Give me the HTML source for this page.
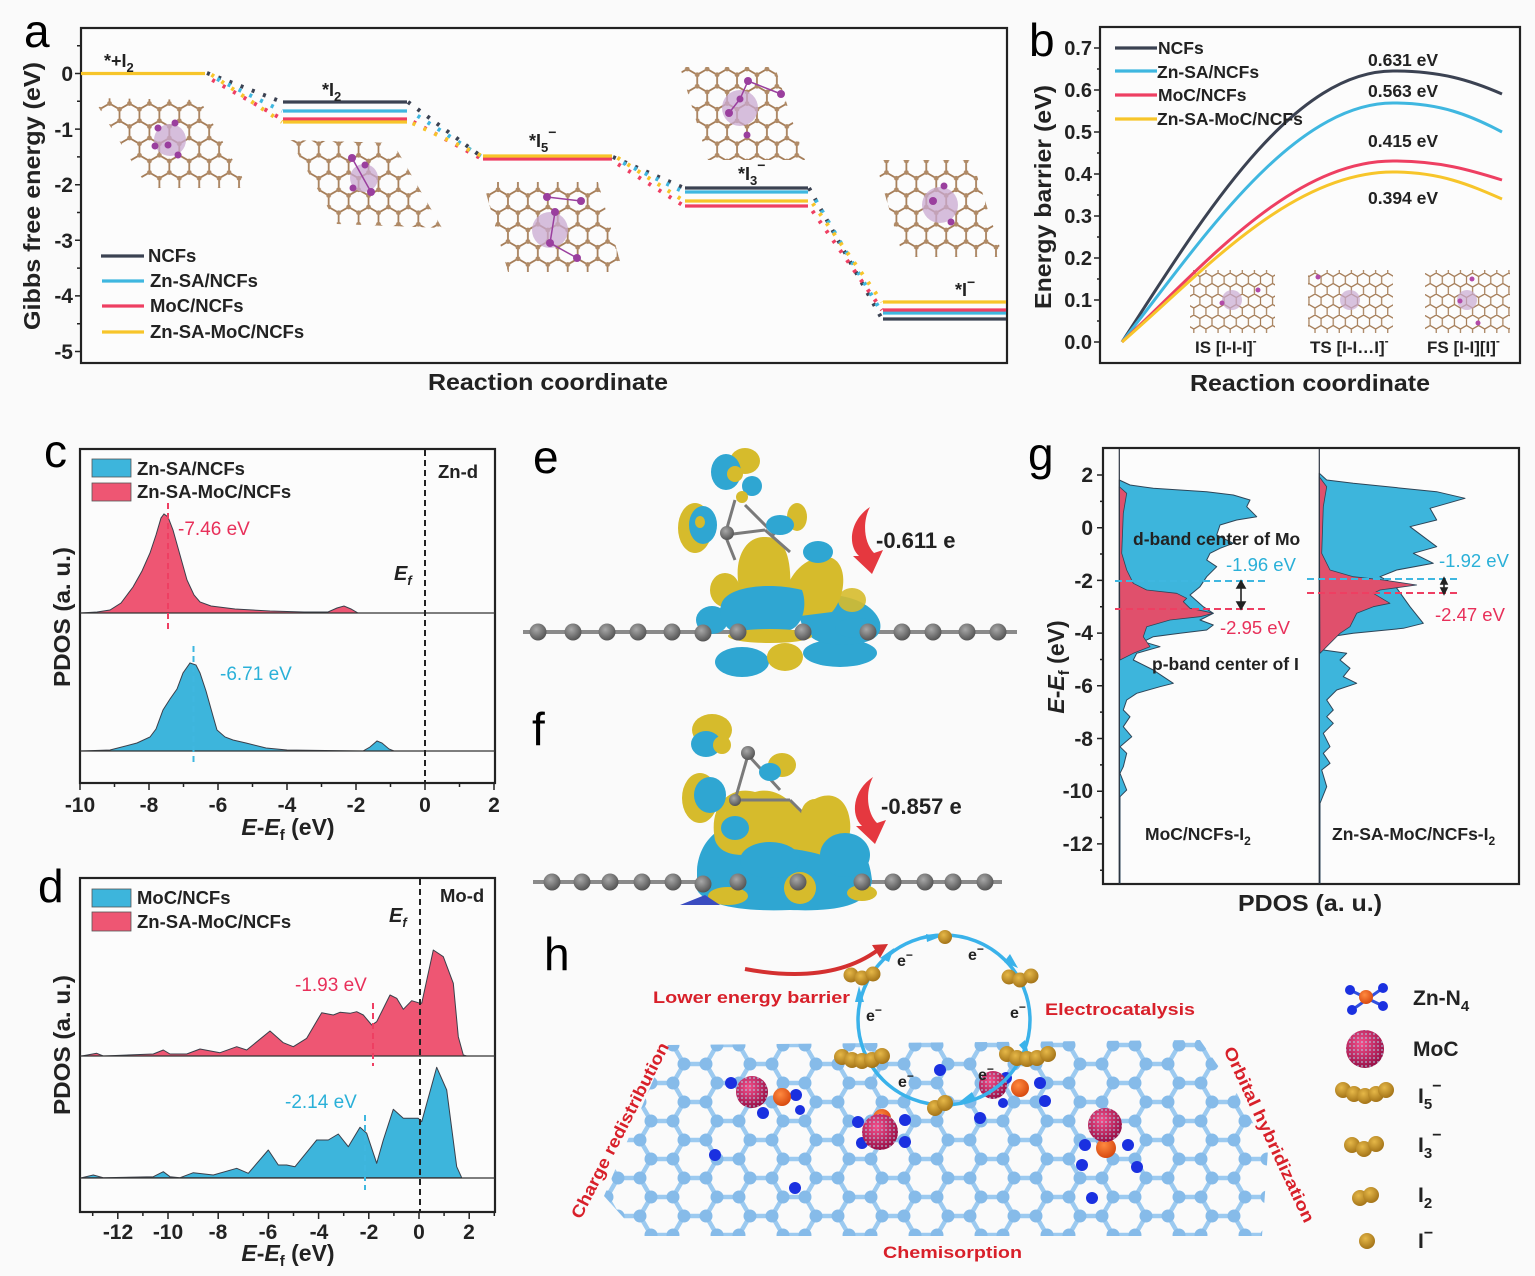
<!DOCTYPE html>
<html><head><meta charset="utf-8">
<style>
html,body{margin:0;padding:0;background:#fafafa;}
svg{display:block;}
text{font-family:"Liberation Sans",Arial,sans-serif;}
.b{font-weight:bold;}
</style></head><body>
<svg width="1535" height="1276" viewBox="0 0 1535 1276" xmlns="http://www.w3.org/2000/svg">
<defs>
 <pattern id="brown" width="34.5" height="19.92" patternUnits="userSpaceOnUse" patternTransform="rotate(90)">
  <g stroke="#a57d58" stroke-width="1.8" fill="none">
   <path d="M5.75,0H17.25 M5.75,19.92H17.25 M23,9.96H34.5 M5.75,0L0,9.96 M17.25,0L23,9.96 M0,9.96L5.75,19.92 M23,9.96L17.25,19.92"/>
  </g>
  <g fill="#b08a66">
   <circle cx="5.75" cy="0" r="2.4"/><circle cx="17.25" cy="0" r="2.4"/><circle cx="5.75" cy="19.92" r="2.4"/><circle cx="17.25" cy="19.92" r="2.4"/><circle cx="0" cy="9.96" r="2.4"/><circle cx="23" cy="9.96" r="2.4"/><circle cx="34.5" cy="9.96" r="2.4"/>
  </g>
 </pattern>
 <pattern id="brownS" width="21" height="12.12" patternUnits="userSpaceOnUse" patternTransform="rotate(90)">
  <g stroke="#a57d58" stroke-width="1.3" fill="none">
   <path d="M3.5,0H10.5 M3.5,12.12H10.5 M14,6.06H21 M3.5,0L0,6.06 M10.5,0L14,6.06 M0,6.06L3.5,12.12 M14,6.06L10.5,12.12"/>
  </g>
 </pattern>
 <pattern id="blue" width="66" height="38" patternUnits="userSpaceOnUse" patternTransform="translate(640,1045)">
  <g stroke="#9ccaf0" stroke-width="4.5" fill="none">
   <path d="M11,0H33 M11,38H33 M44,19H66 M11,0L0,19 M33,0L44,19 M0,19L11,38 M44,19L33,38"/>
  </g>
  <g fill="#86bbe9">
   <circle cx="11" cy="0" r="6.5"/><circle cx="33" cy="0" r="6.5"/><circle cx="11" cy="38" r="6.5"/><circle cx="33" cy="38" r="6.5"/><circle cx="0" cy="19" r="6.5"/><circle cx="44" cy="19" r="6.5"/><circle cx="66" cy="19" r="6.5"/>
  </g>
 </pattern>
 <pattern id="dots" width="4" height="4" patternUnits="userSpaceOnUse">
  <circle cx="2" cy="2" r="0.9" fill="#a8e4f2" opacity="0.8"/>
 </pattern>
 <radialGradient id="moc" cx="40%" cy="35%" r="65%">
  <stop offset="0" stop-color="#f2508a"/><stop offset="1" stop-color="#9a1048"/>
 </radialGradient>
 <radialGradient id="gold" cx="40%" cy="35%" r="65%">
  <stop offset="0" stop-color="#e6b848"/><stop offset="1" stop-color="#a47418"/>
 </radialGradient>
 <radialGradient id="gray" cx="40%" cy="35%" r="65%">
  <stop offset="0" stop-color="#a8a8a8"/><stop offset="1" stop-color="#555"/>
 </radialGradient>
 <radialGradient id="orange" cx="40%" cy="35%" r="65%">
  <stop offset="0" stop-color="#ff8a40"/><stop offset="1" stop-color="#d84a10"/>
 </radialGradient>
</defs>

<!-- ================= PANEL A ================= -->
<text x="24" y="47" font-size="46">a</text>
<rect x="81" y="28" width="926" height="335" fill="#fcfcfc" stroke="#222" stroke-width="2.2"/>
<path d="M75,73.5H81 M75,129.1H81 M75,184.7H81 M75,240.3H81 M75,295.9H81 M75,351.5H81 M77,45.7H81 M77,101.3H81 M77,156.9H81 M77,212.5H81 M77,268.1H81 M77,323.7H81" stroke="#222" stroke-width="1.5"/>
<g class="b" font-size="21" text-anchor="end" fill="#222">
 <text x="73" y="81">0</text><text x="73" y="137">-1</text><text x="73" y="192">-2</text><text x="73" y="248">-3</text><text x="73" y="303">-4</text><text x="73" y="359">-5</text>
</g>
<text class="b" font-size="23" transform="translate(40,196) rotate(-90)" text-anchor="middle" textLength="268" lengthAdjust="spacingAndGlyphs" fill="#222">Gibbs free energy (eV)</text>
<text class="b" font-size="23" x="548" y="390" text-anchor="middle" textLength="240" lengthAdjust="spacingAndGlyphs" fill="#222">Reaction coordinate</text>

<polygon points="93,98 200,100 248,188 148,188" fill="url(#brown)"/>
<polygon points="290,140 393,143 442,228 337,224" fill="url(#brown)"/>
<polygon points="483,182 598,182 623,272 508,272" fill="url(#brown)"/>
<polygon points="680,67 775,67 805,160 708,160" fill="url(#brown)"/>
<polygon points="875,160 972,160 1003,257 903,257" fill="url(#brown)"/>
<g fill="#c9a9d2" opacity="0.75">
 <circle cx="170" cy="140" r="16"/><circle cx="364" cy="178" r="14"/><circle cx="550" cy="230" r="18"/><circle cx="740" cy="108" r="18"/><circle cx="940" cy="205" r="18"/>
</g>
<g fill="#9a3f9e">
 <circle cx="158" cy="128" r="3.5"/><circle cx="175" cy="123" r="3.5"/><circle cx="168" cy="145" r="3.5"/><circle cx="155" cy="146" r="3.5"/><circle cx="178" cy="155" r="3.5"/>
 <circle cx="352" cy="158" r="4"/><circle cx="371" cy="192" r="4"/><circle cx="365" cy="165" r="3.5"/><circle cx="353" cy="188" r="3.5"/>
 <circle cx="547" cy="197" r="4"/><circle cx="581" cy="201" r="4"/><circle cx="555" cy="212" r="4"/><circle cx="550" cy="243" r="4"/><circle cx="577" cy="258" r="4"/>
 <circle cx="748" cy="81" r="4"/><circle cx="781" cy="94" r="4"/><circle cx="729" cy="113" r="4"/><circle cx="740" cy="99" r="3.5"/><circle cx="747" cy="135" r="3.5"/>
 <circle cx="933" cy="201" r="4"/><circle cx="944" cy="186" r="3.5"/><circle cx="951" cy="222" r="3.5"/>
</g>
<g stroke="#9a3f9e" stroke-width="1.5" fill="none">
 <path d="M352,158L371,192 M547,197L581,201 M555,212L550,243L577,258 M748,81L781,94 M729,113L740,99L748,81"/>
</g>

<g stroke-width="4" stroke-dasharray="3 9" fill="none">
 <path d="M207,73L282,102 M408,102L482,157 M613,157L684,188 M809,188L882,319" stroke="#3b4252"/>
 <path d="M209,75L282,111 M410,111L482,157 M615,159L684,192 M811,192L882,313" stroke="#3fb7e0" stroke-dashoffset="3"/>
 <path d="M207,77L282,119 M408,119L482,159 M613,161L684,206 M809,206L882,310" stroke="#ee3f62" stroke-dashoffset="6"/>
 <path d="M209,73L282,122 M410,122L482,156 M615,156L684,201 M811,201L882,302" stroke="#f7c52a" stroke-dashoffset="9"/>
</g>
<g stroke-width="3.2" fill="none">
 <path d="M81,73.5H205" stroke="#f7c52a"/>
 <path d="M283,102H407 M685,188H808 M883,319H1006" stroke="#3b4252"/>
 <path d="M283,111H407 M685,192H808 M883,313H1006" stroke="#3fb7e0"/>
 <path d="M283,119H407 M483,159H612 M685,206H808 M883,310H1006" stroke="#ee3f62"/>
 <path d="M283,122H407 M483,156H612 M685,201H808 M883,302H1006" stroke="#f7c52a"/>
</g>
<g class="b" font-size="18" fill="#222">
 <text x="104" y="67">*+I<tspan font-size="13" dy="5">2</tspan></text>
 <text x="322" y="96">*I<tspan font-size="13" dy="5">2</tspan></text>
 <text x="529" y="147">*I<tspan font-size="13" dy="5">5</tspan><tspan font-size="14" dy="-15">−</tspan></text>
 <text x="738" y="180">*I<tspan font-size="13" dy="5">3</tspan><tspan font-size="14" dy="-15">−</tspan></text>
 <text x="955" y="296">*I<tspan font-size="14" dy="-9">−</tspan></text>
</g>
<g stroke-width="3.2">
 <line x1="101" y1="256" x2="144" y2="256" stroke="#3b4252"/>
 <line x1="102" y1="281" x2="144" y2="281" stroke="#3fb7e0"/>
 <line x1="102" y1="306" x2="144" y2="306" stroke="#ee3f62"/>
 <line x1="102" y1="332" x2="144" y2="332" stroke="#f7c52a"/>
</g>
<g class="b" font-size="18.5" fill="#222">
 <text x="148" y="262">NCFs</text><text x="150" y="287">Zn-SA/NCFs</text><text x="150" y="312">MoC/NCFs</text><text x="150" y="338">Zn-SA-MoC/NCFs</text>
</g>

<!-- ================= PANEL B ================= -->
<text x="1029" y="56" font-size="46">b</text>
<rect x="1100" y="27" width="420" height="336" fill="#fcfcfc" stroke="#222" stroke-width="2.2"/>
<path d="M1094,342H1100 M1094,300H1100 M1094,258H1100 M1094,216H1100 M1094,174H1100 M1094,132H1100 M1094,90H1100 M1094,48H1100 M1097,321H1100 M1097,279H1100 M1097,237H1100 M1097,195H1100 M1097,153H1100 M1097,111H1100 M1097,69H1100" stroke="#222" stroke-width="1.5"/>
<g class="b" font-size="20" text-anchor="end" fill="#222">
 <text x="1092" y="55">0.7</text><text x="1092" y="97">0.6</text><text x="1092" y="139">0.5</text><text x="1092" y="181">0.4</text><text x="1092" y="223">0.3</text><text x="1092" y="265">0.2</text><text x="1092" y="307">0.1</text><text x="1092" y="349">0.0</text>
</g>
<text class="b" font-size="23" transform="translate(1051,197) rotate(-90)" text-anchor="middle" textLength="224" lengthAdjust="spacingAndGlyphs" fill="#222">Energy barrier (eV)</text>
<text class="b" font-size="23" x="1310" y="391" text-anchor="middle" textLength="240" lengthAdjust="spacingAndGlyphs" fill="#222">Reaction coordinate</text>
<rect x="1190" y="270" width="85" height="63" fill="url(#brownS)"/>
<rect x="1308" y="270" width="85" height="63" fill="url(#brownS)"/>
<rect x="1425" y="270" width="85" height="63" fill="url(#brownS)"/>
<g fill="#c9a9d2" opacity="0.7"><circle cx="1232" cy="300" r="10"/><circle cx="1350" cy="300" r="10"/><circle cx="1467" cy="300" r="10"/></g>
<g fill="#b24aa8"><circle cx="1258" cy="290" r="2.5"/><circle cx="1222" cy="303" r="2.5"/><circle cx="1318" cy="277" r="2.5"/><circle cx="1472" cy="279" r="2.5"/><circle cx="1478" cy="323" r="2.5"/><circle cx="1460" cy="301" r="2.5"/></g>
<g stroke-width="3" fill="none">
 <path d="M1122,342 C1200,222 1290,71 1393,71 C1440,71 1470,80 1502,94" stroke="#3b4252"/>
 <path d="M1122,342 C1195,250 1290,103 1393,103 C1440,103 1470,115 1502,132" stroke="#3fb7e0"/>
 <path d="M1122,342 C1200,270 1290,161 1393,161 C1440,161 1470,170 1502,180" stroke="#ee3f62"/>
 <path d="M1122,342 C1200,275 1290,172 1393,172 C1440,172 1470,185 1502,199" stroke="#f7c52a"/>
</g>
<g stroke-width="3.2">
 <line x1="1115" y1="48" x2="1157" y2="48" stroke="#3b4252"/>
 <line x1="1115" y1="71" x2="1157" y2="71" stroke="#3fb7e0"/>
 <line x1="1115" y1="95" x2="1157" y2="95" stroke="#ee3f62"/>
 <line x1="1115" y1="119" x2="1157" y2="119" stroke="#f7c52a"/>
</g>
<g class="b" font-size="17.5" fill="#222">
 <text x="1158" y="54">NCFs</text><text x="1157" y="78">Zn-SA/NCFs</text><text x="1158" y="101">MoC/NCFs</text><text x="1157" y="125">Zn-SA-MoC/NCFs</text>
 <text x="1368" y="66">0.631 eV</text><text x="1368" y="97">0.563 eV</text><text x="1368" y="147">0.415 eV</text><text x="1368" y="204">0.394 eV</text>
</g>
<g class="b" font-size="17" fill="#222">
 <text x="1195" y="353">IS [I-I-I]<tspan font-size="12" dy="-8">-</tspan></text>
 <text x="1310" y="353">TS [I-I…I]<tspan font-size="12" dy="-8">-</tspan></text>
 <text x="1427" y="353">FS [I-I][I]<tspan font-size="12" dy="-8">-</tspan></text>
</g>

<!-- ================= PANEL C ================= -->
<text x="44" y="467" font-size="46">c</text>
<rect x="80" y="449" width="415" height="334" fill="#fcfcfc" stroke="#222" stroke-width="2.2"/>
<path d="M80,613 L97,612 L110,610 L121,603 L133,587 L142,571 L150,553 L156,535 L161,518 L164,514 L168,517 L173,530 L180,555 L187,580 L194,595 L200,602 L211,606 L235,609 L270,611 L304,612 L328,612 L337,608 L344,606 L351,609 L358,613 L495,613 Z" fill="#ee5673" stroke="#3a3f4a" stroke-width="1"/>
<path d="M80,751 L110,750 L137,743 L150,737 L156,729 L163,710 L170,699 L177,689 L183,673 L190,663 L196,665 L200,673 L206,691 L213,716 L217,730 L225,737 L233,740 L246,743 L266,748 L287,750 L363,751 L370,747 L377,741 L382,743 L389,749 L394,751 L495,751 Z" fill="#3db5dc" stroke="#3a3f4a" stroke-width="1"/>
<line x1="80" y1="613" x2="495" y2="613" stroke="#333" stroke-width="1.2"/>
<line x1="80" y1="751" x2="495" y2="751" stroke="#333" stroke-width="1.2"/>
<line x1="425" y1="450" x2="425" y2="783" stroke="#222" stroke-width="2" stroke-dasharray="6 4"/>
<line x1="168" y1="503" x2="168" y2="629" stroke="#ee3f62" stroke-width="2" stroke-dasharray="6 4"/>
<line x1="193.5" y1="646" x2="193.5" y2="766" stroke="#3fb7e0" stroke-width="2" stroke-dasharray="6 4"/>
<path d="M80,783V790 M114.5,783V787 M149,783V790 M183.5,783V787 M218,783V790 M252.5,783V787 M287,783V790 M321.5,783V787 M356,783V790 M390.5,783V787 M425,783V790 M459.5,783V787 M494,783V790" stroke="#222" stroke-width="1.5"/>
<g class="b" font-size="21" text-anchor="middle" fill="#222">
 <text x="80" y="812">-10</text><text x="149" y="812">-8</text><text x="218" y="812">-6</text><text x="287" y="812">-4</text><text x="356" y="812">-2</text><text x="425" y="812">0</text><text x="494" y="812">2</text>
</g>
<text class="b" font-size="23" x="288" y="835" text-anchor="middle" fill="#222"><tspan font-style="italic">E</tspan>-<tspan font-style="italic">E</tspan><tspan font-size="15" dy="5">f</tspan><tspan dy="-5"> (eV)</tspan></text>
<text class="b" font-size="23" transform="translate(70,617) rotate(-90)" text-anchor="middle" textLength="140" lengthAdjust="spacingAndGlyphs" fill="#222">PDOS (a. u.)</text>
<rect x="92" y="459" width="39" height="18" fill="#3db5dc" stroke="#555" stroke-width="0.8"/>
<rect x="92" y="483" width="39" height="18" fill="#ee5673" stroke="#555" stroke-width="0.8"/>
<g class="b" font-size="18.5" fill="#222">
 <text x="137" y="475">Zn-SA/NCFs</text><text x="137" y="498">Zn-SA-MoC/NCFs</text><text x="438" y="478">Zn-d</text>
</g>
<text class="b" font-size="20" x="394" y="580" font-style="italic" fill="#222">E<tspan font-size="13" dy="5">f</tspan></text>
<text font-size="19" x="178" y="535" fill="#e8305a">-7.46 eV</text>
<text font-size="19" x="220" y="680" fill="#2ab0d8">-6.71 eV</text>

<!-- ================= PANEL D ================= -->
<text x="38" y="902" font-size="46">d</text>
<rect x="80" y="878" width="415" height="334" fill="#fcfcfc" stroke="#222" stroke-width="2.2"/>
<path d="M81.7,1056 L96.7,1053.3 L103.3,1056 L153.3,1054 L163.3,1050 L170,1054 L186.7,1054 L200,1049 L220,1052.7 L236.7,1046.7 L246.7,1050 L270,1031 L283.3,1042.7 L293.3,1046.7 L306.7,1038.3 L321.7,1012.7 L333.3,1015 L340,1012.3 L350,1013.3 L356.7,1011.7 L363.3,1015 L371.7,1025 L376.7,1021.7 L390,995 L396.7,998.3 L403.3,1009.3 L411.7,1000.7 L418.3,1002.7 L421.7,1003.3 L433.3,950 L443.3,956.7 L453.3,983.3 L458.3,1036.7 L463.3,1055 L466.7,1056 Z" fill="#ee5673" stroke="#3a3f4a" stroke-width="1" stroke-linejoin="round"/>
<path d="M81.7,1177.7 L93.3,1175 L103.3,1177.7 L153.3,1176.7 L163.3,1171.7 L170,1176.7 L180,1177.7 L193.3,1172.7 L213.3,1175 L236.7,1168.3 L248.3,1173.3 L268.3,1150 L278.3,1165 L286.7,1165 L295,1166.7 L316.7,1140 L328.3,1140 L338.3,1134 L348.3,1146.7 L360,1127.3 L366.7,1133.3 L376.7,1163.3 L383.3,1140 L393.3,1109.3 L403.3,1118.3 L418.3,1118.3 L421.7,1121.7 L436.7,1067.3 L446.7,1090 L456.7,1166.7 L461.7,1177.7 Z" fill="#3db5dc" stroke="#3a3f4a" stroke-width="1" stroke-linejoin="round"/>
<line x1="80" y1="1056" x2="495" y2="1056" stroke="#333" stroke-width="1.2"/>
<line x1="80" y1="1178" x2="495" y2="1178" stroke="#333" stroke-width="1.2"/>
<line x1="420" y1="879" x2="420" y2="1212" stroke="#222" stroke-width="2" stroke-dasharray="6 4"/>
<line x1="373" y1="1003" x2="373" y2="1066" stroke="#ee3f62" stroke-width="2" stroke-dasharray="6 4"/>
<line x1="365" y1="1115" x2="365" y2="1190" stroke="#3fb7e0" stroke-width="2" stroke-dasharray="6 4"/>
<path d="M92.7,1212V1216 M117.8,1212V1219 M142.9,1212V1216 M168,1212V1219 M193.1,1212V1216 M218.2,1212V1219 M243.3,1212V1216 M268.4,1212V1219 M293.5,1212V1216 M318.6,1212V1219 M343.7,1212V1216 M368.8,1212V1219 M393.9,1212V1216 M419,1212V1219 M444.1,1212V1216 M469.2,1212V1219 M494.3,1212V1216" stroke="#222" stroke-width="1.5"/>
<g class="b" font-size="21" text-anchor="middle" fill="#222">
 <text x="118" y="1239">-12</text><text x="168" y="1239">-10</text><text x="218" y="1239">-8</text><text x="268" y="1239">-6</text><text x="319" y="1239">-4</text><text x="369" y="1239">-2</text><text x="419" y="1239">0</text><text x="469" y="1239">2</text>
</g>
<text class="b" font-size="23" x="288" y="1261" text-anchor="middle" fill="#222"><tspan font-style="italic">E</tspan>-<tspan font-style="italic">E</tspan><tspan font-size="15" dy="5">f</tspan><tspan dy="-5"> (eV)</tspan></text>
<text class="b" font-size="23" transform="translate(70,1045) rotate(-90)" text-anchor="middle" textLength="140" lengthAdjust="spacingAndGlyphs" fill="#222">PDOS (a. u.)</text>
<rect x="92" y="889" width="39" height="18" fill="#3db5dc" stroke="#555" stroke-width="0.8"/>
<rect x="92" y="912" width="39" height="19" fill="#ee5673" stroke="#555" stroke-width="0.8"/>
<g class="b" font-size="18.5" fill="#222">
 <text x="137" y="904">MoC/NCFs</text><text x="137" y="928">Zn-SA-MoC/NCFs</text><text x="440" y="902">Mo-d</text>
</g>
<text class="b" font-size="20" x="389" y="922" font-style="italic" fill="#222">E<tspan font-size="13" dy="5">f</tspan></text>
<text font-size="19" x="295" y="991" fill="#e8305a">-1.93 eV</text>
<text font-size="19" x="285" y="1108" fill="#2ab0d8">-2.14 eV</text>

<!-- ================= PANEL E ================= -->
<text x="533" y="473" font-size="46">e</text>
<line x1="523" y1="632" x2="1017" y2="632" stroke="#8a8a8a" stroke-width="4"/>
<g>
 <ellipse cx="742" cy="662" rx="27" ry="15" fill="#2fa6d2"/>
 <ellipse cx="785" cy="657" rx="18" ry="14" fill="#d6bb2c"/>
 <ellipse cx="840" cy="653" rx="37" ry="14" fill="#2fa6d2"/>
 <ellipse cx="712" cy="620" rx="16" ry="14" fill="#2fa6d2"/>
 <path d="M798,600 C830,588 872,598 880,622 C884,642 860,646 830,644 C810,642 798,630 798,600 Z" fill="#2fa6d2"/>
 <ellipse cx="725" cy="590" rx="15" ry="17" fill="#d6bb2c"/>
 <path d="M740,592 C732,560 745,536 765,537 C787,536 792,562 790,594 Z" fill="#d6bb2c"/>
 <path d="M784,596 C790,570 810,553 832,558 C848,565 846,596 832,612 L800,616 Z" fill="#d6bb2c"/>
 <path d="M722,602 C730,586 770,582 802,590 C808,606 802,626 790,630 L730,630 C720,622 718,612 722,602 Z" fill="#2fa6d2"/>
 <ellipse cx="818" cy="552" rx="15" ry="11" fill="#2fa6d2"/>
 <ellipse cx="852" cy="600" rx="14" ry="12" fill="#d6bb2c" opacity="0.9"/>
 <ellipse cx="770" cy="636" rx="42" ry="7" fill="#d6bb2c"/>
 <ellipse cx="857" cy="628" rx="22" ry="10" fill="#2fa6d2"/>
 <path d="M735,500 L725,535 M745,505 L775,535 M725,535 L765,530 M765,530 L790,552 M725,535 L735,560" stroke="#7a7a7a" stroke-width="3" fill="none"/>
 <ellipse cx="745" cy="461" rx="15" ry="13" fill="#d6bb2c"/>
 <ellipse cx="726" cy="472" rx="15" ry="18" fill="#2fa6d2"/>
 <ellipse cx="735" cy="474" rx="8" ry="8" fill="#d6bb2c"/>
 <ellipse cx="752" cy="486" rx="10" ry="10" fill="#2fa6d2"/>
 <ellipse cx="742" cy="497" rx="6" ry="6" fill="#d6bb2c"/>
 <ellipse cx="695" cy="528" rx="17" ry="25" fill="#d6bb2c"/>
 <ellipse cx="703" cy="525" rx="14" ry="19" fill="#2fa6d2"/>
 <ellipse cx="700" cy="522" rx="5" ry="6" fill="#d6bb2c"/>
 <ellipse cx="797" cy="517" rx="10" ry="14" fill="#d6bb2c"/>
 <ellipse cx="780" cy="525" rx="14" ry="10" fill="#2fa6d2"/>
 <circle cx="727" cy="533" r="7" fill="url(#gray)"/>
</g>
<g fill="url(#gray)">
 <circle cx="538" cy="632" r="8.5"/><circle cx="573" cy="632" r="8.5"/><circle cx="607" cy="632" r="8.5"/><circle cx="638" cy="632" r="8.5"/><circle cx="672" cy="632" r="8.5"/><circle cx="703" cy="633" r="8.5"/><circle cx="738" cy="632" r="8.5"/><circle cx="803" cy="632" r="8.5"/><circle cx="868" cy="632" r="8.5"/><circle cx="902" cy="632" r="8.5"/><circle cx="933" cy="632" r="8.5"/><circle cx="967" cy="632" r="8.5"/><circle cx="998" cy="632" r="8.5"/>
</g>
<path d="M870,507 C850,520 847,545 859,556 L853,556 L872,574 L883,550 L874,553 C864,543 862,522 870,507 Z" fill="#e5383f"/>
<text class="b" font-size="22" x="876" y="548" fill="#222">-0.611 e</text>

<!-- ================= PANEL F ================= -->
<text x="532" y="745" font-size="46">f</text>
<line x1="533" y1="882" x2="1002" y2="882" stroke="#8a8a8a" stroke-width="4"/>
<g>
 <path d="M697,870 C700,830 735,815 780,818 C830,812 868,835 872,880 C870,905 840,912 790,910 C740,912 705,905 697,890 Z" fill="#2fa6d2"/>
 <path d="M715,840 C708,805 730,785 755,792 C775,786 790,800 800,812 C815,792 840,788 848,812 C855,835 845,852 832,858 C800,848 780,846 760,852 C740,858 720,855 715,840 Z" fill="#d6bb2c"/>
 <ellipse cx="770" cy="860" rx="30" ry="18" fill="#2fa6d2"/>
 <ellipse cx="735" cy="828" rx="14" ry="12" fill="#2fa6d2"/>
 <ellipse cx="845" cy="855" rx="25" ry="22" fill="#2fa6d2"/>
 <ellipse cx="800" cy="888" rx="16" ry="16" fill="#d6bb2c"/>
 <ellipse cx="728" cy="896" rx="20" ry="9" fill="#d6bb2c"/>
 <ellipse cx="862" cy="893" rx="15" ry="8" fill="#d6bb2c"/>
 <path d="M748,755 L735,800 M748,755 L780,790 M735,800 L790,800 M790,800 L810,820" stroke="#7a7a7a" stroke-width="3" fill="none"/>
 <ellipse cx="712" cy="730" rx="20" ry="16" fill="#d6bb2c"/>
 <ellipse cx="706" cy="744" rx="15" ry="13" fill="#2fa6d2"/>
 <ellipse cx="722" cy="745" rx="9" ry="9" fill="#d6bb2c"/>
 <ellipse cx="700" cy="798" rx="18" ry="25" fill="#d6bb2c"/>
 <ellipse cx="710" cy="795" rx="16" ry="18" fill="#2fa6d2"/>
 <ellipse cx="782" cy="765" rx="14" ry="12" fill="#d6bb2c"/>
 <ellipse cx="770" cy="772" rx="11" ry="9" fill="#2fa6d2"/>
 <ellipse cx="815" cy="815" rx="14" ry="16" fill="#d6bb2c"/>
 <circle cx="748" cy="753" r="7" fill="url(#gray)"/>
 <circle cx="735" cy="800" r="6" fill="url(#gray)"/>
 <path d="M680,905 L705,895 L720,905 Z" fill="#3a4cc0"/>
</g>
<g fill="url(#gray)">
 <circle cx="552" cy="882" r="8.5"/><circle cx="582" cy="882" r="8.5"/><circle cx="610" cy="882" r="8.5"/><circle cx="642" cy="882" r="8.5"/><circle cx="673" cy="882" r="8.5"/><circle cx="703" cy="884" r="8.5"/><circle cx="738" cy="882" r="8.5"/><circle cx="798" cy="882" r="8.5"/><circle cx="862" cy="882" r="8.5"/><circle cx="893" cy="882" r="8.5"/><circle cx="925" cy="882" r="8.5"/><circle cx="953" cy="882" r="8.5"/><circle cx="985" cy="882" r="8.5"/>
</g>
<path d="M873,777 C853,790 850,815 862,826 L856,826 L875,844 L886,820 L877,823 C867,813 865,792 873,777 Z" fill="#e5383f"/>
<text class="b" font-size="22" x="881" y="814" fill="#222">-0.857 e</text>

<!-- ================= PANEL G ================= -->
<text x="1028" y="470" font-size="46">g</text>
<rect x="1103" y="448" width="416" height="436" fill="#fcfcfc" stroke="#222" stroke-width="2.2"/>
<path d="M1119.3,480 L1130,485 L1153.3,488.3 L1206.7,491.7 L1233.3,495 L1250,500 L1246.7,506.7 L1256.7,516.7 L1236.7,520 L1220,525 L1216.7,535 L1233.3,543.3 L1220,548.3 L1210,553.3 L1206.7,560 L1216.7,566.7 L1206.7,576.7 L1200,586.7 L1190,595 L1203.3,606.7 L1213.3,613.3 L1200,620 L1213.3,625 L1206.7,630 L1180,633.3 L1153.3,636.7 L1143.3,641.7 L1160,646.7 L1136.7,653.3 L1133.3,660 L1153.3,670 L1163.3,676.7 L1173.3,683.3 L1160,686.7 L1136.7,693.3 L1126.7,700 L1123.3,710 L1130,716.7 L1123.3,726.7 L1131.7,736.7 L1120,746.7 L1126.7,753.3 L1123.3,766.7 L1120,773.3 L1126.7,790 L1120,796.7 L1120,883 L1119.3,883 Z" fill="#3db5dc" stroke="#2d4558" stroke-width="1" stroke-linejoin="round"/>
<path d="M1119.3,486.7 L1126.7,493.3 L1123.3,513.3 L1121.7,553.3 L1126.7,570 L1133.3,583.3 L1146.7,590 L1176.7,593.3 L1186.7,598.3 L1183.3,601.7 L1190,608.3 L1206.7,611.7 L1213.3,613.3 L1200,616.7 L1170,620 L1146.7,626.7 L1143.3,636.7 L1150,646.7 L1133.3,653.3 L1120,660 Z" fill="#e0506c" stroke="#2d4558" stroke-width="0.8" stroke-linejoin="round"/>
<path d="M1319.3,473.3 L1326.7,480 L1353.3,483.3 L1436.7,491.7 L1465,498.3 L1430,508.3 L1436.7,520 L1410,526.7 L1436.7,546.7 L1413.3,553.3 L1433.3,563.3 L1396.7,570 L1380,576.7 L1393.3,583.3 L1410,606.7 L1423.3,623.3 L1403.3,628.3 L1353.3,633.3 L1330,636.7 L1323.3,650 L1346.7,653.3 L1340,660 L1350,668.3 L1343.3,676.7 L1356.7,683.3 L1336.7,690 L1326.7,700 L1333.3,710 L1326.7,716.7 L1333.3,723.3 L1323.3,733.3 L1330,746.7 L1323.3,753.3 L1330,763.3 L1321.7,770 L1326.7,786.7 L1320,803.3 L1320,883 L1319.3,883 Z" fill="#3db5dc" stroke="#2d4558" stroke-width="1" stroke-linejoin="round"/>
<path d="M1319.3,476.7 L1326.7,486.7 L1323.3,506.7 L1321.7,553.3 L1330,570 L1353.3,576.7 L1383.3,580 L1416.7,585 L1380,590 L1373.3,593.3 L1390,603.3 L1373.3,606.7 L1356.7,613.3 L1350,626.7 L1340,633.3 L1320,653.3 Z" fill="#e0506c" stroke="#2d4558" stroke-width="0.8" stroke-linejoin="round"/>
<line x1="1119.3" y1="449" x2="1119.3" y2="884" stroke="#2d3440" stroke-width="1.2"/>
<line x1="1319.3" y1="449" x2="1319.3" y2="884" stroke="#2d3440" stroke-width="1.2"/>
<path d="M1097,475H1103 M1097,527.7H1103 M1097,580.4H1103 M1097,633.1H1103 M1097,685.8H1103 M1097,738.5H1103 M1097,791.2H1103 M1097,843.9H1103 M1100,501.35H1103 M1100,554H1103 M1100,606.75H1103 M1100,659.45H1103 M1100,712.15H1103 M1100,764.85H1103 M1100,817.55H1103 M1100,870.25H1103" stroke="#222" stroke-width="1.5"/>
<g class="b" font-size="21" text-anchor="end" fill="#222">
 <text x="1093" y="482">2</text><text x="1093" y="535">0</text><text x="1093" y="588">-2</text><text x="1093" y="640">-4</text><text x="1093" y="693">-6</text><text x="1093" y="746">-8</text><text x="1093" y="798">-10</text><text x="1093" y="851">-12</text>
</g>
<text class="b" font-size="23" transform="translate(1064,667) rotate(-90)" text-anchor="middle" fill="#222"><tspan font-style="italic">E</tspan>-<tspan font-style="italic">E</tspan><tspan font-size="15" dy="5">f</tspan><tspan dy="-5"> (eV)</tspan></text>
<text class="b" font-size="23" x="1310" y="911" text-anchor="middle" textLength="144" lengthAdjust="spacingAndGlyphs" fill="#222">PDOS (a. u.)</text>
<line x1="1115" y1="581" x2="1267" y2="581" stroke="#3fb7e0" stroke-width="2" stroke-dasharray="7 4"/>
<line x1="1115" y1="609" x2="1267" y2="609" stroke="#ee3f62" stroke-width="2" stroke-dasharray="7 4"/>
<line x1="1307" y1="579" x2="1460" y2="579" stroke="#3fb7e0" stroke-width="2" stroke-dasharray="7 4"/>
<line x1="1307" y1="593" x2="1460" y2="593" stroke="#ee3f62" stroke-width="2" stroke-dasharray="7 4"/>
<g stroke="#222" stroke-width="1.6" fill="#222">
 <line x1="1241" y1="586" x2="1241" y2="604"/><path d="M1237,588L1241,581L1245,588Z M1237,602L1241,609L1245,602Z"/>
 <line x1="1444" y1="582" x2="1444" y2="590"/><path d="M1441,584L1444,578L1447,584Z M1441,588L1444,594L1447,588Z"/>
</g>
<g class="b" font-size="17.5" fill="#222">
 <text x="1133" y="545">d-band center of Mo</text>
 <text x="1152" y="670">p-band center of I</text>
 <text x="1145" y="840">MoC/NCFs-I<tspan font-size="12" dy="5">2</tspan></text>
 <text x="1332" y="840">Zn-SA-MoC/NCFs-I<tspan font-size="12" dy="5">2</tspan></text>
</g>
<g font-size="18.5">
 <text x="1226" y="571" fill="#2ab0d8">-1.96 eV</text>
 <text x="1220" y="634" fill="#e8305a">-2.95 eV</text>
 <text x="1439" y="567" fill="#2ab0d8">-1.92 eV</text>
 <text x="1435" y="621" fill="#e8305a">-2.47 eV</text>
</g>

<!-- ================= PANEL H ================= -->
<text x="544" y="970" font-size="46">h</text>
<polygon points="668,1045 1200,1040 1235,1090 1268,1150 1262,1236 640,1236 604,1196" fill="url(#blue)"/>
<g fill="#1a30e0">
 <circle cx="731" cy="1083" r="6"/><circle cx="763" cy="1113" r="6"/><circle cx="796" cy="1095" r="6"/><circle cx="800" cy="1110" r="5"/>
 <circle cx="858" cy="1122" r="6"/><circle cx="905" cy="1120" r="6"/><circle cx="862" cy="1143" r="6"/><circle cx="905" cy="1142" r="6"/>
 <circle cx="1006" cy="1078" r="6"/><circle cx="1040" cy="1083" r="6"/><circle cx="1003" cy="1103" r="5"/><circle cx="1045" cy="1101" r="6"/>
 <circle cx="1085" cy="1145" r="6"/><circle cx="1128" cy="1145" r="6"/><circle cx="1082" cy="1165" r="6"/><circle cx="1137" cy="1167" r="6"/>
 <circle cx="715" cy="1155" r="6"/><circle cx="795" cy="1188" r="6"/><circle cx="940" cy="1070" r="6"/><circle cx="980" cy="1118" r="6"/><circle cx="1092" cy="1198" r="6"/>
</g>
<g fill="url(#orange)">
 <circle cx="782" cy="1097" r="9"/><circle cx="882" cy="1118" r="9"/><circle cx="1020" cy="1088" r="9"/><circle cx="1106" cy="1148" r="10"/>
</g>
<g>
 <circle cx="752" cy="1092" r="16" fill="url(#moc)"/><circle cx="752" cy="1092" r="16" fill="url(#dots)"/>
 <circle cx="880" cy="1132" r="18" fill="url(#moc)"/><circle cx="880" cy="1132" r="18" fill="url(#dots)"/>
 <circle cx="993" cy="1085" r="14" fill="url(#moc)"/><circle cx="993" cy="1085" r="14" fill="url(#dots)"/>
 <circle cx="1105" cy="1125" r="17" fill="url(#moc)"/><circle cx="1105" cy="1125" r="17" fill="url(#dots)"/>
</g>
<ellipse cx="944" cy="1020" rx="86" ry="85" fill="none" stroke="#3ab2ea" stroke-width="3.5"/>
<g fill="#3ab2ea">
 <path d="M880,958 L894,948 L889,962 Z"/>
 <path d="M926,934 L940,937 L927,942 Z"/>
 <path d="M1010,954 L1018,968 L1004,962 Z"/>
 <path d="M1025,1040 L1030,1058 L1019,1045 Z"/>
 <path d="M975,1098 L958,1103 L972,1092 Z"/>
 <path d="M855,1002 L859,986 L864,1002 Z"/>
</g>
<path d="M745,969 Q830,985 878,950" fill="none" stroke="#d43030" stroke-width="4"/>
<path d="M872,945 L888,944 L880,958 Z" fill="#d43030"/>
<g fill="url(#gold)">
 <circle cx="945" cy="937" r="7"/>
 <circle cx="851" cy="975" r="7.5"/><circle cx="862" cy="978" r="7.5"/><circle cx="873" cy="974" r="7.5"/>
 <circle cx="1009" cy="977" r="7.5"/><circle cx="1020" cy="980" r="7.5"/><circle cx="1031" cy="976" r="7.5"/>
 <circle cx="842" cy="1057" r="8"/><circle cx="852" cy="1060" r="8"/><circle cx="862" cy="1061" r="8"/><circle cx="872" cy="1060" r="8"/><circle cx="882" cy="1056" r="8"/>
 <circle cx="1007" cy="1054" r="8"/><circle cx="1017" cy="1058" r="8"/><circle cx="1027" cy="1059" r="8"/><circle cx="1037" cy="1058" r="8"/><circle cx="1048" cy="1054" r="8"/>
 <circle cx="935" cy="1108" r="8"/><circle cx="945" cy="1103" r="8"/>
</g>
<g class="b" font-size="16" fill="#222">
 <text x="897" y="966">e<tspan font-size="12" dy="-7">−</tspan></text>
 <text x="968" y="960">e<tspan font-size="12" dy="-7">−</tspan></text>
 <text x="866" y="1021">e<tspan font-size="12" dy="-7">−</tspan></text>
 <text x="1010" y="1018">e<tspan font-size="12" dy="-7">−</tspan></text>
 <text x="898" y="1087">e<tspan font-size="12" dy="-7">−</tspan></text>
 <text x="978" y="1080">e<tspan font-size="12" dy="-7">−</tspan></text>
</g>
<g class="b" font-size="17" fill="#d8202a">
 <text x="653" y="1003" textLength="197" lengthAdjust="spacingAndGlyphs">Lower energy barrier</text>
 <text x="1045" y="1015" textLength="150" lengthAdjust="spacingAndGlyphs">Electrocatalysis</text>
 <text x="883" y="1258" textLength="139" lengthAdjust="spacingAndGlyphs">Chemisorption</text>
 <text transform="translate(625,1133) rotate(-63)" text-anchor="middle" textLength="195" lengthAdjust="spacingAndGlyphs">Charge redistribution</text>
 <text transform="translate(1264,1137) rotate(65)" text-anchor="middle" textLength="192" lengthAdjust="spacingAndGlyphs">Orbital hybridization</text>
</g>
<g stroke="#3050e0" stroke-width="3"><line x1="1350" y1="990" x2="1383" y2="1006"/><line x1="1383" y1="988" x2="1352" y2="1010"/></g>
<g fill="#1a30e0"><circle cx="1350" cy="990" r="5"/><circle cx="1383" cy="988" r="5"/><circle cx="1352" cy="1010" r="5"/><circle cx="1383" cy="1006" r="5"/></g>
<circle cx="1366" cy="997" r="7" fill="url(#orange)"/>
<circle cx="1365" cy="1049" r="19" fill="url(#moc)"/><circle cx="1365" cy="1049" r="19" fill="url(#dots)"/>
<g fill="url(#gold)">
 <circle cx="1343" cy="1090" r="8"/><circle cx="1354" cy="1094" r="8"/><circle cx="1365" cy="1096" r="8"/><circle cx="1376" cy="1094" r="8"/><circle cx="1386" cy="1090" r="8"/>
 <circle cx="1352" cy="1145" r="8"/><circle cx="1364" cy="1149" r="8"/><circle cx="1376" cy="1144" r="8"/>
 <circle cx="1360" cy="1198" r="8"/><circle cx="1371" cy="1195" r="8"/>
 <circle cx="1367" cy="1241" r="8"/>
</g>
<g class="b" font-size="21" fill="#222">
 <text x="1413" y="1005">Zn-N<tspan font-size="15" dy="6">4</tspan></text>
 <text x="1413" y="1056">MoC</text>
 <text x="1418" y="1103">I<tspan font-size="15" dy="6">5</tspan><tspan font-size="16" dy="-18">−</tspan></text>
 <text x="1418" y="1152">I<tspan font-size="15" dy="6">3</tspan><tspan font-size="16" dy="-18">−</tspan></text>
 <text x="1418" y="1202">I<tspan font-size="15" dy="6">2</tspan></text>
 <text x="1418" y="1248">I<tspan font-size="16" dy="-10">−</tspan></text>
</g>
</svg>
</body></html>
